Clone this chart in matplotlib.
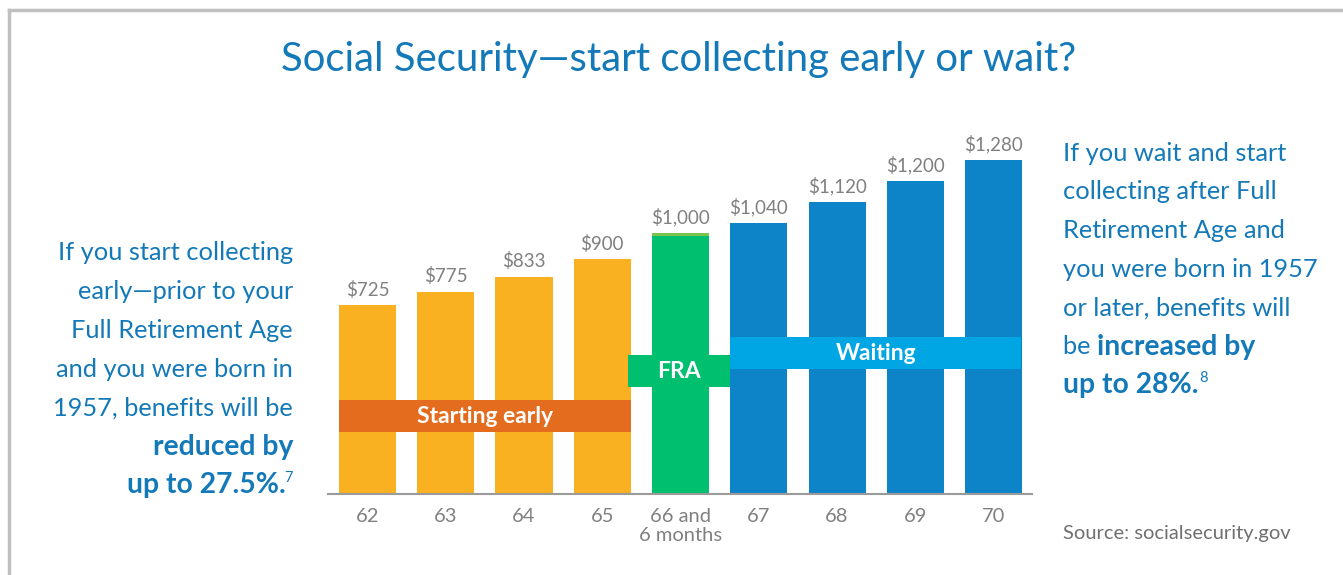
import matplotlib
matplotlib.use("Agg")

import matplotlib.pyplot as plt
from matplotlib.lines import Line2D

# data
ages = ["62", "63", "64", "65", "66 and\n6 months", "67", "68", "69", "70"]
benefits = [725, 775, 833, 900, 1000, 1040, 1120, 1200, 1280]
labels = ["$725", "$775", "$833", "$900", "$1,000", "$1,040", "$1,120", "$1,200", "$1,280"]
groups = ["early", "early", "early", "early", "fra", "wait", "wait", "wait", "wait"]

ORANGE = "#F9B021"
GREEN = "#00BF6F"
BLUE = "#0E84C8"
colors = {"early": ORANGE, "fra": GREEN, "wait": BLUE}
TEXT_BLUE = "#1479B8"
GRAY = "#808080"
FONT = "Lato"
NOTE_FS = 18.3
BOLD_FS = 20.3

plt.rcParams["font.family"] = [FONT, "DejaVu Sans"]

fig = plt.figure(figsize=(13.43, 5.75), dpi=100)
W, H = 1343, 575

# outer frame (top and left grey rule)
fig.add_artist(Line2D([9 / W, 1], [1 - 10 / H, 1 - 10 / H], color="#C0C0C0", lw=2.5))
fig.add_artist(Line2D([9 / W, 9 / W], [0, 1 - 10 / H], color="#C0C0C0", lw=2.5))

ax = fig.add_axes([328 / W, 81 / H, 704 / W, 365.4 / H])
x = list(range(len(ages)))
bw = 0.73
ax.bar(x, benefits, width=bw, color=[colors[g] for g in groups], zorder=2)
# thin light-green cap on the FRA bar
fi = groups.index("fra")
ax.bar(fi, 12, bottom=benefits[fi] - 12, width=bw, color="#7DC24B", zorder=3)

for xi, v, lab in zip(x, benefits, labels):
    ax.text(xi, v + 24, lab, ha="center", va="bottom", color=GRAY, fontsize=13.5)

ax.set_xlim(-0.505, 8.49)
ax.set_ylim(0, 1400)
for s in ["top", "right", "left"]:
    ax.spines[s].set_visible(False)
ax.spines["bottom"].set_color("#9A9A9A")
ax.spines["bottom"].set_linewidth(1.5)
ax.set_yticks([])
ax.set_xticks(x)
ax.set_xticklabels(ages, color=GRAY, fontsize=14.5, linespacing=1.15)
ax.tick_params(axis="x", length=0, pad=10)

# group bands
early = [i for i, g in enumerate(groups) if g == "early"]
wait = [i for i, g in enumerate(groups) if g == "wait"]
bands = [
    (early[0] - bw / 2, early[-1] + bw / 2, 237, 360, "#E36C1E", "Starting early"),
    (fi - 0.67, fi + 1 - bw / 2, 410, 532, GREEN, "FRA"),
    (wait[0] - bw / 2, wait[-1] + 0.35, 479, 601, "#00A5E3", "Waiting"),
]
for x0, x1, y0, y1, c, t in bands:
    ax.fill_between([x0, x1], y0, y1, color=c, zorder=4, lw=0)
    ax.text((x0 + x1) / 2, (y0 + y1) / 2, t, ha="center", va="center",
            color="white", fontsize=16.5, fontweight="bold", zorder=5)

# title
fig.text(679 / W, 1 - 60 / H, "Social Security\u2014start collecting early or wait?",
         ha="center", va="center", color=TEXT_BLUE, fontsize=28.9)

# left note
left_lines = ["If you start collecting", "early\u2014prior to your", "Full Retirement Age",
              "and you were born in", "1957, benefits will be"]
step = 38.7
for i, line in enumerate(left_lines):
    fig.text(293 / W, 1 - (253 + i * step) / H, line, ha="right", va="center",
             color=TEXT_BLUE, fontsize=NOTE_FS)
fig.text(293 / W, 1 - (253 + 5 * step) / H, "reduced by", ha="right", va="center",
         color=TEXT_BLUE, fontsize=BOLD_FS, fontweight="bold")
fig.text(293 / W, 1 - (253 + 6 * step - 7) / H, "7", ha="right", va="center",
         color=TEXT_BLUE, fontsize=10.5)
fig.text(286 / W, 1 - (253 + 6 * step) / H, "up to 27.5%.", ha="right", va="center",
         color=TEXT_BLUE, fontsize=BOLD_FS, fontweight="bold")

# right note
right_lines = ["If you wait and start", "collecting after Full", "Retirement Age and",
               "you were born in 1957", "or later, benefits will"]
for i, line in enumerate(right_lines):
    fig.text(1063 / W, 1 - (153 + i * step) / H, line, ha="left", va="center",
             color=TEXT_BLUE, fontsize=NOTE_FS)
be = fig.text(1063 / W, 1 - (153 + 5 * step) / H, "be ", ha="left", va="center",
              color=TEXT_BLUE, fontsize=NOTE_FS)
fig.canvas.draw()
r = fig.canvas.get_renderer()
bx = be.get_window_extent(r).x1 / W
fig.text(bx, 1 - (153 + 5 * step) / H, "increased by", ha="left", va="center",
         color=TEXT_BLUE, fontsize=BOLD_FS, fontweight="bold")
up = fig.text(1063 / W, 1 - (153 + 6 * step) / H, "up to 28%.", ha="left", va="center",
              color=TEXT_BLUE, fontsize=BOLD_FS, fontweight="bold")
ux = up.get_window_extent(r).x1 / W
fig.text(ux + 1 / W, 1 - (153 + 6 * step - 7) / H, "8", ha="left", va="center",
         color=TEXT_BLUE, fontsize=10.5)

fig.text(1063 / W, 1 - 533 / H, "Source: socialsecurity.gov", ha="left", va="center",
         color="#707070", fontsize=14.5)

fig.savefig("out.png", dpi=100)
plt.close(fig)
